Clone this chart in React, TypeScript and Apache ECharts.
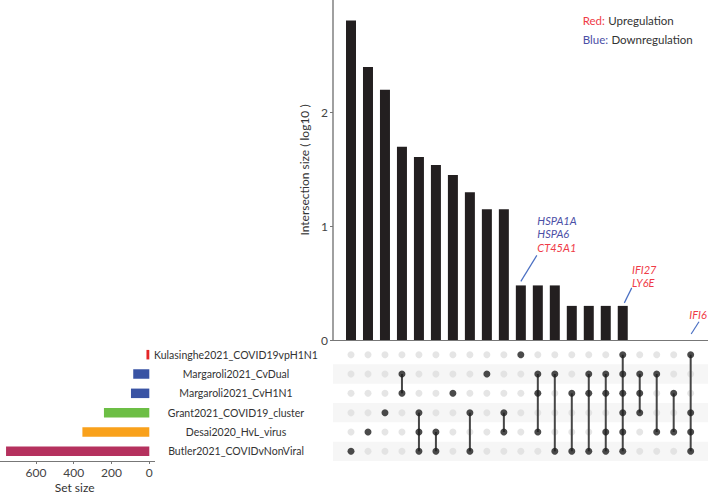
import React, { useEffect, useRef } from "react";
import * as echarts from "echarts";

const sets = [
  "Kulasinghe2021_COVID19vpH1N1",
  "Margaroli2021_CvDual",
  "Margaroli2021_CvH1N1",
  "Grant2021_COVID19_cluster",
  "Desai2020_HvL_virus",
  "Butler2021_COVIDvNonViral",
];
const setSizes = [15, 85, 97, 240, 354, 758];
const intersectionLog10 = [
  2.81, 2.4, 2.2, 1.7, 1.61, 1.54, 1.45, 1.3, 1.15, 1.15, 0.48, 0.48, 0.48, 0.3,
  0.3, 0.3, 0.3, 0, 0, 0, 0,
];
// indices into `sets` for each intersection column
const memberships = [
  [5], [4], [3], [1, 2], [3, 4, 5], [4, 5], [2], [3, 5], [1], [3, 4], [0],
  [1, 2, 4], [1, 5], [2, 5], [1, 2, 5], [1, 2, 4, 5], [0, 1, 2, 3, 4, 5],
  [1, 2, 3], [1, 4], [2, 4], [0, 3, 4, 5],
];
const annotations = [
  { col: 10, genes: ["HSPA1A", "HSPA6", "CT45A1"], dirs: ["down", "down", "up"] },
  { col: 16, genes: ["IFI27", "LY6E"], dirs: ["up", "up"] },
  { col: 20, genes: ["IFI6"], dirs: ["up"] },
];
const legendLines = [
  { key: "Red:", text: "Upregulation", dir: "up" },
  { key: "Blue:", text: "Downregulation", dir: "down" },
];

const setColors = ["#e42527", "#3953a4", "#3953a4", "#6cbe45", "#f9a11b", "#b5315e"];
const UP = "#ef3b47";
const DOWN = "#4b4fa6";
const FONT = "Lato";

export default function App() {
  const ref = useRef<HTMLDivElement>(null);
  useEffect(() => {
    if (!ref.current) return;
    const chart = echarts.init(ref.current, undefined, { renderer: "svg" });
    const xMin = -1.06;
    const xMax = 21.02;
    const yMax = 2.99;

    const grayDots: number[][] = [];
    const blackDots: number[][] = [];
    const links: number[][] = [];
    memberships.forEach((m, c) => {
      for (let r = 0; r < sets.length; r++) {
        if (m.includes(r)) blackDots.push([c, r]);
        else grayDots.push([c, r]);
      }
      if (m.length > 1) links.push([c, Math.min(...m), Math.max(...m)]);
    });

    const axisGray = "#777777";
    const option: any = {
      animation: false,
      textStyle: { fontFamily: FONT },
      grid: [
        { left: 333, top: 0, width: 375, height: 340 },
        { left: 333, top: 345, width: 375, height: 116 },
        { left: 0, top: 345, width: 149.3, height: 116 },
      ],
      xAxis: [
        {
          gridIndex: 0, type: "value", min: xMin, max: xMax,
          axisLine: { show: true, onZero: false, lineStyle: { color: axisGray } },
          axisTick: { show: false }, axisLabel: { show: false }, splitLine: { show: false },
        },
        {
          gridIndex: 1, type: "value", min: xMin, max: xMax, show: false,
        },
        {
          gridIndex: 2, type: "value", min: 0, max: 790, inverse: true, interval: 200,
          name: "Set size", nameLocation: "middle", nameGap: 20,
          nameTextStyle: { color: "#333", fontSize: 12, fontFamily: FONT },
          axisLine: { show: true, onZero: false, lineStyle: { color: axisGray } },
          axisTick: { show: true, length: 3, lineStyle: { color: axisGray } },
          axisLabel: { color: "#444", fontSize: 12, margin: 5, fontFamily: FONT, showMaxLabel: false },
          splitLine: { show: false },
        },
      ],
      yAxis: [
        {
          gridIndex: 0, type: "value", min: 0, max: yMax, interval: 1,
          name: "Intersection size ( log10 )", nameLocation: "middle", nameGap: 18,
          nameTextStyle: { color: "#333", fontSize: 12, fontFamily: FONT },
          axisLine: { show: true, onZero: false, lineStyle: { color: "#808080", width: 1.5 } },
          axisTick: { show: true, length: 3, lineStyle: { color: axisGray } },
          axisLabel: { color: "#444", fontSize: 12, margin: 5, fontFamily: FONT, showMaxLabel: false },
          splitLine: { show: false },
        },
        {
          gridIndex: 1, type: "category", data: sets, inverse: true,
          axisLine: { show: false, onZero: false }, axisTick: { show: false },
          axisLabel: { color: "#333", fontSize: 10.5, margin: 97, align: "center", fontFamily: FONT },
        },
        {
          gridIndex: 2, type: "category", data: sets, inverse: true, show: false,
          axisLine: { onZero: false },
        },
      ],
      series: [
        {
          type: "bar", xAxisIndex: 0, yAxisIndex: 0, barWidth: 10,
          itemStyle: { color: "#231f20" },
          data: intersectionLog10.map((v, i) => [i, v]),
        },
        {
          type: "custom", xAxisIndex: 1, yAxisIndex: 1, silent: true, z: 1,
          data: [1, 3, 5].map((r) => [r]),
          renderItem: (params: any, api: any) => {
            const r = api.value(0);
            const p0 = api.coord([xMin, r]);
            const p1 = api.coord([xMax, r]);
            const h = api.size([0, 1])[1];
            return {
              type: "rect",
              shape: { x: p0[0], y: p0[1] - h / 2, width: p1[0] - p0[0], height: h },
              style: { fill: "#f6f6f6" },
            };
          },
        },
        {
          type: "scatter", xAxisIndex: 1, yAxisIndex: 1, symbolSize: 7, z: 2,
          itemStyle: { color: "#dedede" }, data: grayDots,
        },
        {
          type: "custom", xAxisIndex: 1, yAxisIndex: 1, z: 3,
          data: links,
          renderItem: (params: any, api: any) => {
            const a = api.coord([api.value(0), api.value(1)]);
            const b = api.coord([api.value(0), api.value(2)]);
            return {
              type: "line",
              shape: { x1: a[0], y1: a[1], x2: b[0], y2: b[1] },
              style: { stroke: "#464646", lineWidth: 2 },
            };
          },
        },
        {
          type: "scatter", xAxisIndex: 1, yAxisIndex: 1, symbolSize: 7, z: 4,
          itemStyle: { color: "#1e1e1e" }, data: blackDots,
        },
        {
          type: "bar", xAxisIndex: 2, yAxisIndex: 2, barWidth: 9.5,
          data: setSizes.map((v, i) => ({ value: v, itemStyle: { color: setColors[i] } })),
        },
      ],
    };
    chart.setOption(option);

    const graphics: any[] = [];
    graphics.push({
      type: "line", silent: true,
      shape: { x1: 149.3, y1: 461.5, x2: 155, y2: 461.5 },
      style: { stroke: axisGray, lineWidth: 1 },
    });
    const annoOffsets = [
      { line: [0, -4, 16, -30], tx: 16.5, ty: -38 },
      { line: [1.6, -3, 9, -18], tx: 9.3, ty: -23 },
      { line: [0.5, -6, 8.3, -18.3], tx: -1.4, ty: -26 },
    ];
    annotations.forEach((a, k) => {
      const p = chart.convertToPixel({ xAxisIndex: 0, yAxisIndex: 0 }, [a.col, intersectionLog10[a.col]]) as number[];
      const o = annoOffsets[k];
      graphics.push({
        type: "line", silent: true,
        shape: { x1: p[0] + o.line[0], y1: p[1] + o.line[1], x2: p[0] + o.line[2], y2: p[1] + o.line[3] },
        style: { stroke: "#4a6fc2", lineWidth: 1.2 },
      });
      const n = a.genes.length;
      a.genes.forEach((g, j) => {
        graphics.push({
          type: "text", silent: true,
          x: p[0] + o.tx,
          y: p[1] + o.ty - (n - 1 - j) * 13.5,
          style: {
            text: g, fill: a.dirs[j] === "up" ? UP : DOWN,
            font: `italic 11px ${FONT}`, textAlign: "left", textVerticalAlign: "middle",
          },
        });
      });
    });
    legendLines.forEach((l, i) => {
      graphics.push({
        type: "text", silent: true, x: 582.7, y: 20.7 + i * 18.6,
        style: {
          text: `{k|${l.key}} {t|${l.text}}`,
          textVerticalAlign: "middle",
          rich: {
            k: { fill: l.dir === "up" ? UP : DOWN, fontSize: 11.5, fontFamily: FONT },
            t: { fill: "#333", fontSize: 11.5, fontFamily: FONT },
          },
        },
      });
    });
    chart.setOption({ graphic: graphics });

    return () => chart.dispose();
  }, []);
  return <div ref={ref} style={{ width: 708, height: 495, position: "absolute", left: 0, top: 0 }} />;
}
